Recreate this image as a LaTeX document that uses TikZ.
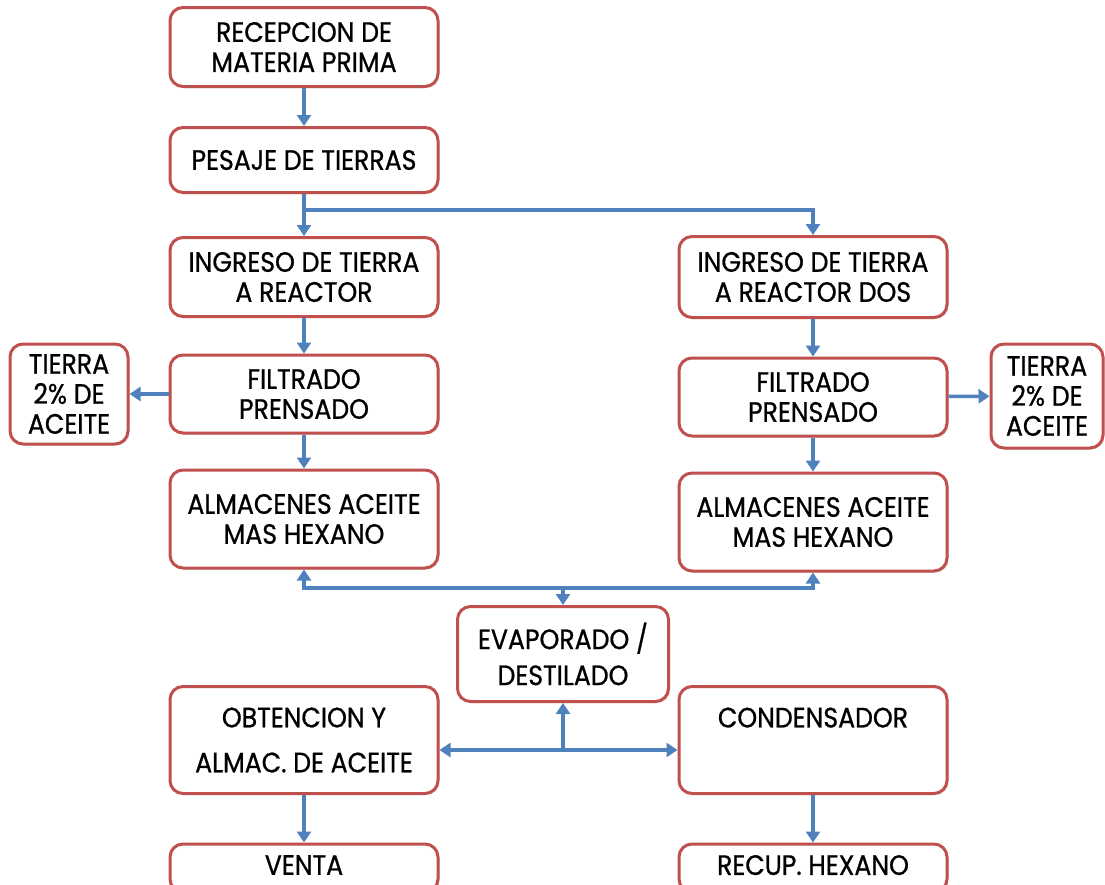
\documentclass[tikz,border=0pt]{standalone}
\usepackage{fontspec}
\setmainfont{Poppins}[FakeStretch=0.9,FakeBold=0.8]
\usetikzlibrary{arrows.meta,shadows}
\definecolor{bred}{HTML}{C0504D}
\definecolor{ablue}{HTML}{4F81BD}
\tikzset{
  box/.style={draw=bred, line width=3pt, rounded corners=13pt, fill=white,
    align=center, inner sep=2pt, font=\fontsize{28}{30}\selectfont,
    drop shadow={opacity=0.25, shadow xshift=1.5pt, shadow yshift=-1.5pt}},
  arr/.style={draw=ablue, line width=3.4pt, -{Triangle[width=14pt,length=11pt]}},
}
\begin{document}
\begin{tikzpicture}[x=1pt,y=-1pt]
\useasboundingbox (0,0) rectangle (1105,884);
\clip (0,0) rectangle (1105,884);
\node[box, minimum width=268pt, minimum height=79pt] (rec) at (304,47) {RECEPCION DE\\MATERIA PRIMA};
\node[box, minimum width=268pt, minimum height=65pt] (pes) at (304,160) {PESAJE DE TIERRAS};
\node[box, minimum width=268pt, minimum height=79pt] (ing1) at (304,277) {INGRESO DE TIERRA\\A REACTOR};
\node[box, minimum width=268pt, minimum height=81pt] (ing2) at (813,277) {INGRESO DE TIERRA\\A REACTOR DOS};
\node[box, minimum width=268pt, minimum height=78pt] (fil1) at (304,394) {FILTRADO\\PRENSADO};
\node[box, minimum width=118pt, minimum height=100pt] (tie1) at (69,394) {TIERRA\\2\% DE\\ACEITE};
\node[box, minimum width=268pt, minimum height=78pt] (fil2) at (813,397) {FILTRADO\\PRENSADO};
\node[box, minimum width=112pt, minimum height=104pt] (tie2) at (1047,396) {TIERRA\\2\% DE\\ACEITE};
\node[box, minimum width=268pt, minimum height=98pt] (alm1) at (304,519) {ALMACENES ACEITE\\MAS HEXANO};
\node[box, minimum width=268pt, minimum height=98pt] (alm2) at (813,522) {ALMACENES ACEITE\\MAS HEXANO};
\node[box, minimum width=211pt, minimum height=95pt] (evap) at (563,654) {EVAPORADO /\\[6pt]DESTILADO};
\node[box, minimum width=268pt, minimum height=107pt] (obt) at (304,740) {OBTENCION Y\\[15pt]ALMAC. DE ACEITE};
\node[box, minimum width=268pt, minimum height=107pt] (cond) at (813,740) {CONDENSADOR\\[15pt]\phantom{X}};
\node[box, minimum width=268pt, minimum height=48pt] (ven) at (304,868) {\raisebox{6pt}{VENTA}};
\node[box, minimum width=268pt, minimum height=48pt] (recup) at (813,868) {\raisebox{6pt}{RECUP. HEXANO}};
\coordinate (s1) at (304,210);
\coordinate (m1) at (563,588);
\coordinate (b1) at (563,750);
\draw[arr] (rec) -- (pes);
\draw[arr] (pes) -- (ing1);
\draw[arr] (s1) -| (ing2);
\draw[arr] (ing1) -- (fil1);
\draw[arr] (ing2) -- (fil2);
\draw[arr] (fil1) -- (tie1);
\draw[arr] (fil2) -- (tie2);
\draw[arr] (fil1) -- (alm1);
\draw[arr] (fil2) -- (alm2);
\draw[arr] (m1) -| (alm1);
\draw[arr] (m1) -| (alm2);
\draw[arr] (m1) -- (evap);
\draw[arr] (b1) -- (evap);
\draw[arr] (b1) -- (b1 -| obt.east);
\draw[arr] (b1) -- (b1 -| cond.west);
\draw[arr] (obt) -- (ven);
\draw[arr] (cond) -- (recup);
\end{tikzpicture}
\end{document}
